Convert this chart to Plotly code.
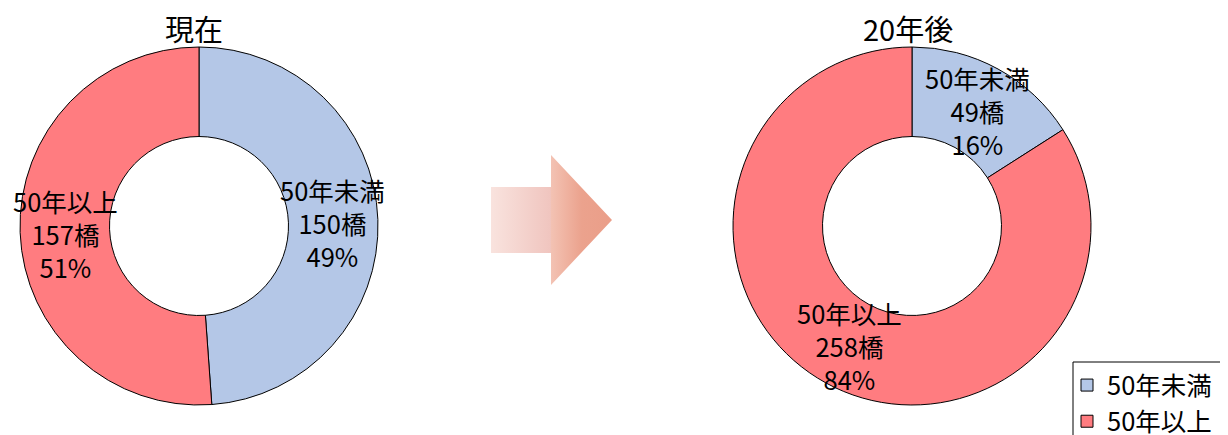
import plotly.graph_objects as go

# ---- data ----
categories = ["50年未満", "50年以上"]
now_counts = [150, 157]
future_counts = [49, 258]
titles = ["現在", "20年後"]
colors = ["#B4C7E7", "#FF7C80"]

W, H = 1228, 435
OFF = 8  # page body margin compensation
FONT = "Noto Sans CJK JP"

def px(x):
    return (x - OFF) / W

def py(y):
    return 1 - (y - OFF) / H

def pct_labels(counts):
    tot = sum(counts)
    return [f"{c}<br>{v}橋<br>{round(v * 100 / tot)}%" for c, v in zip(categories, counts)]

fig = go.Figure()

# pie geometry (pixel): centre and radius
pies = [
    dict(cx=199, cy=226, r=179, counts=now_counts, title=titles[0], tx=194,
         label_pos=[(332, 222), (65, 233)]),
    dict(cx=912, cy=226, r=179, counts=future_counts, title=titles[1], tx=908,
         label_pos=[(977, 110), (849, 345)]),
]

annotations = []
for i, p in enumerate(pies):
    fig.add_trace(go.Pie(
        labels=categories,
        values=p["counts"],
        hole=0.5,
        sort=False,
        direction="clockwise",
        rotation=0,
        textinfo="none",
        hoverinfo="label+value+percent",
        marker=dict(colors=colors, line=dict(color="black", width=1)),
        domain=dict(x=[px(p["cx"] - p["r"]), px(p["cx"] + p["r"])],
                    y=[py(p["cy"] + p["r"]), py(p["cy"] - p["r"])]),
        showlegend=True,
    ))
    for txt, (lx, ly) in zip(pct_labels(p["counts"]), p["label_pos"]):
        annotations.append(dict(
            x=px(lx), y=py(ly), xref="paper", yref="paper",
            xanchor="center", yanchor="middle",
            text=txt, showarrow=False, align="center",
            font=dict(family=FONT, size=25.5, color="black"),
        ))
    annotations.append(dict(
        x=px(p["tx"]), y=py(28), xref="paper", yref="paper",
        xanchor="center", yanchor="middle",
        text=p["title"], showarrow=False,
        font=dict(family=FONT, size=29, color="black"),
    ))

# decorative gradient arrow on a hidden pixel-space axis
arrow_x = [491, 551, 551, 612, 551, 551, 491, 491]
arrow_y = [187, 187, 155, 220, 285, 253, 253, 187]
fig.add_trace(go.Scatter(
    x=[v - OFF for v in arrow_x], y=[v - OFF for v in arrow_y],
    mode="lines", fill="toself",
    line=dict(width=0, color="rgba(0,0,0,0)"),
    fillgradient=dict(type="horizontal", colorscale=[
        [0.0, "#F9E3DE"], [0.49, "#F0C5BF"], [0.5, "#F3C2B3"],
        [0.75, "#EBA28D"], [1.0, "#EA9E89"]]),
    hoverinfo="skip", showlegend=False,
))

# legend frame (drawn separately so the legend entries can sit closer to it)
legend_box = dict(type="rect", xref="x", yref="y",
                  x0=1073 - OFF, y0=362 - OFF, x1=1260, y1=470,
                  line=dict(color="black", width=1), fillcolor="white",
                  layer="below")

fig.update_layout(
    width=W, height=H,
    margin=dict(l=0, r=0, t=0, b=0, autoexpand=False),
    paper_bgcolor="white", plot_bgcolor="rgba(0,0,0,0)",
    font=dict(family=FONT, color="black"),
    xaxis=dict(range=[0, W], visible=False, domain=[0, 1], fixedrange=True),
    yaxis=dict(range=[H, 0], visible=False, domain=[0, 1], fixedrange=True),
    annotations=annotations,
    shapes=[legend_box],
    legend=dict(
        x=px(1067), y=py(362), xanchor="left", yanchor="top",
        borderwidth=0, bgcolor="rgba(0,0,0,0)",
        font=dict(family=FONT, size=25.5, color="black"),
    ),
)

fig.write_html("out.html")
